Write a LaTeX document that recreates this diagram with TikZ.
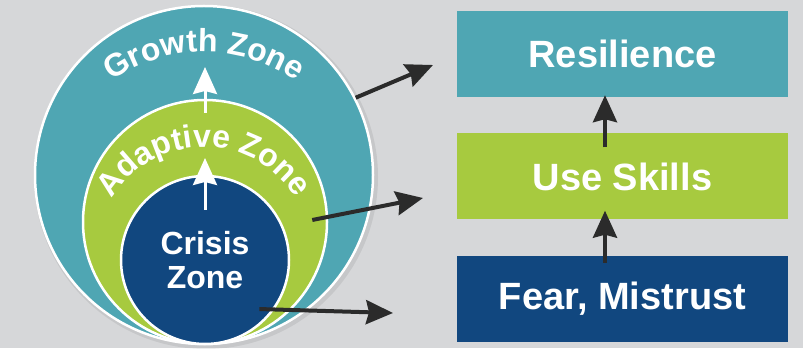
\documentclass[tikz,border=0pt]{standalone}
\usepackage{fontspec}
\setmainfont{Liberation Sans}
\usepackage{tikz}
\usetikzlibrary{arrows.meta,decorations.text}
\usetikzlibrary{positioning}
\definecolor{growth}{HTML}{4FA6B3}
\definecolor{adapt}{HTML}{A7CA3F}
\definecolor{crisis}{HTML}{11477F}
\definecolor{backgr}{HTML}{D6D7D9}
\definecolor{arrowc}{HTML}{2B2B2B}
\newcommand\zonefont{\bfseries\fontsize{32}{34}\selectfont}
\tikzset{>={Stealth[length=27pt,width=24pt,inset=3pt]}}

\begin{document}
\begin{tikzpicture}[x=1pt,y=1pt,
    zone/.style={circle, draw=white, line width=2.5pt, inner sep=0pt},
    level/.style={rectangle, minimum width=331pt, minimum height=86pt, inner sep=0pt, text=white, font=\bfseries\fontsize{38}{40}\selectfont},
    link/.style={->, color=arrowc, line width=4pt},
    stepup/.style={->, color=white, line width=3pt},
    node distance=122.5pt, on grid]
    \fill[backgr] (0,0) rectangle (803,348);
    \useasboundingbox (0,0) rectangle (803,348);
    \fill[black, opacity=0.07] (206,171) circle (172);
    \node[zone, fill=growth, minimum size=338pt] (growth) at (204,173) {};
    \node[zone, fill=adapt, minimum size=244pt] (adaptive) at (205,126) {};
    \node[zone, fill=crisis, minimum size=168pt, text=white, align=center, font=\zonefont] (crisis) at (205,88) {Crisis\\Zone};
    % curved zone names
    \path[decorate, decoration={text along path, text align=center, text color=white, text={|\zonefont|Growth Zone}}]
        (204,135) ++(160:161) arc[start angle=160, end angle=20, radius=161];
    \path[decorate, decoration={text along path, text align=center, text color=white, text={|\zonefont|Adaptive Zone}}]
        (204,93) ++(170:108) arc[start angle=170, end angle=10, radius=108];
    \coordinate (growth tip) at (205,281);
    \coordinate (adaptive tip) at (205,190);
    \draw[stepup] ([yshift=-14pt]adaptive.north) -- (growth tip);
    \draw[stepup] ([yshift=-35pt]crisis.north) -- (adaptive tip);
    % outcome boxes
    \node[level, fill=crisis] (fear) at (622.5,49) {Fear, Mistrust};
    \node[level, fill=adapt] (skills) [above=of fear] {Use Skills};
    \node[level, fill=growth] (resilience) [above=of skills] {Resilience};
    \draw[link] ([xshift=-17.5pt,yshift=-7pt]fear.north) -- ([xshift=-17.5pt,yshift=9pt]skills.south);
    \draw[link] ([xshift=-17.5pt,yshift=-14pt]skills.north) -- ([xshift=-17.5pt,yshift=2pt]resilience.south);
    \coordinate (to resilience) at (433,283);
    \coordinate (to skills) at (423,150);
    \coordinate (to fear) at (393,35);
    \draw[link] (growth.27) -- (to resilience);
    \draw[link] ([shift={(-16pt,2pt)}]adaptive.east) -- (to skills);
    \draw[link] ([shift={(-9pt,8pt)}]crisis.-42) -- (to fear);
\end{tikzpicture}
\end{document}
